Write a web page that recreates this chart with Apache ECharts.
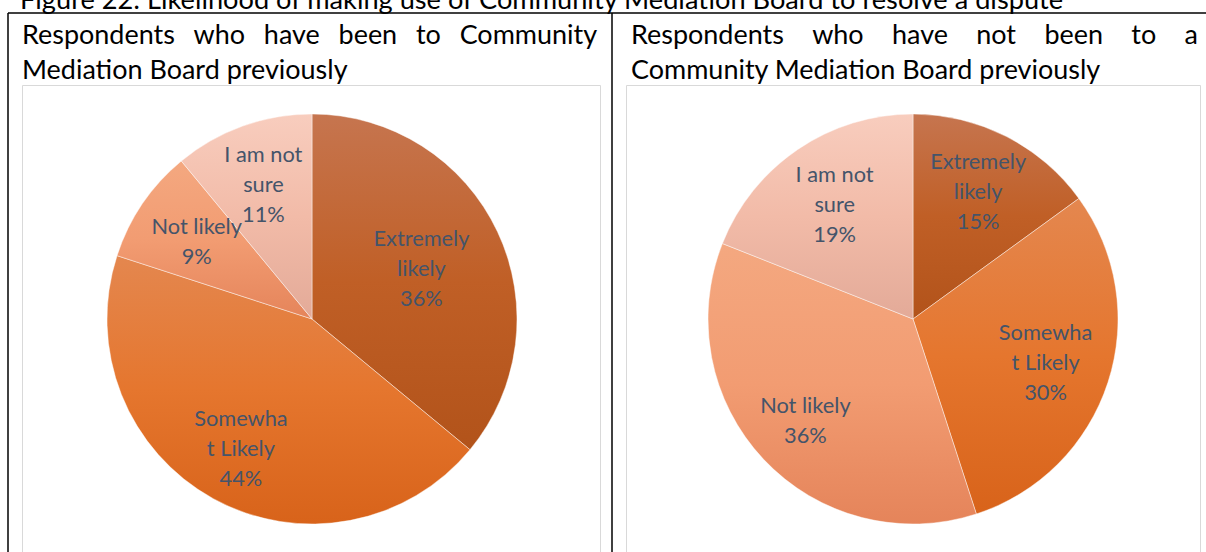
<!DOCTYPE html>
<html>
<head>
<meta charset="utf-8">
<script src="https://cdn.jsdelivr.net/npm/echarts@6/dist/echarts.min.js"></script>
<style>
  html, body { margin: 0; padding: 0; background: #ffffff; }
  #chart { width: 1206px; height: 552px; }
</style>
</head>
<body>
<div id="chart"></div>
<script>
// ---- data ----
const figureTitle = 'Figure 22: Likelihood of making use of Community Mediation Board to resolve a dispute';
const leftHeading = ['Respondents who have been to Community', 'Mediation Board previously'];
const rightHeading = ['Respondents who have not been to a', 'Community Mediation Board previously'];
const categories = ['Extremely likely', 'Somewhat Likely', 'Not likely', 'I am not sure'];
const wrappedNames = ['Extremely\nlikely', 'Somewha\nt Likely', 'Not likely', 'I am not\nsure'];
const beenBefore = [36, 44, 9, 11];
const notBeenBefore = [15, 30, 36, 19];

// ---- styling ----
const FONT = 'Lato, "Noto Sans", sans-serif';
const LABEL_COLOR = '#44546a';
const sliceGradients = [
  ['#c6754f', '#c05f26', '#b2531a'],
  ['#e4874f', '#e5762e', '#d8631a'],
  ['#f4a880', '#f29c72', '#e5845a'],
  ['#f8cdbe', '#f2bba8', '#e3aa98']
];

// measure text so the Calibri-like spacing of the page can be reproduced
const measureCtx = document.createElement('canvas').getContext('2d');
function textWidth(str, size) {
  measureCtx.font = size + 'px ' + FONT;
  return measureCtx.measureText(str).width;
}
function fitSize(str, targetWidth) {
  return 100 * targetWidth / textWidth(str, 100);
}

const headingSize = fitSize(rightHeading[1], 470);
const titleSize = fitSize(figureTitle, 1045);
const labelSize = fitSize('Extremely', 96);

function gradient(stops) {
  return {
    type: 'linear', x: 0, y: 0, x2: 0, y2: 1,
    colorStops: stops.map((c, i) => ({ offset: i / (stops.length - 1), color: c }))
  };
}

function pieData(values) {
  return values.map((v, i) => ({
    name: categories[i],
    value: v,
    itemStyle: { color: gradient(sliceGradients[i]) },
    label: { formatter: wrappedNames[i] + '\n{d}%' }
  }));
}

// a justified first line of a heading, one text element per word
function justifiedLine(words, x0, x1, y, size) {
  const parts = words.split(' ');
  const widths = parts.map(w => textWidth(w, size));
  const sum = widths.reduce((a, b) => a + b, 0);
  const gap = (x1 - x0 - sum) / (parts.length - 1);
  let x = x0;
  return parts.map((w, i) => {
    const el = {
      type: 'text', x: x, y: y,
      style: { text: w, font: size.toFixed(2) + 'px ' + FONT, fill: '#000', verticalAlign: 'middle', align: 'left' }
    };
    x += widths[i] + gap;
    return el;
  });
}
function plainLine(text, x, y, size) {
  return {
    type: 'text', x: x, y: y,
    style: { text: text, font: size.toFixed(2) + 'px ' + FONT, fill: '#000', verticalAlign: 'middle', align: 'left' }
  };
}

// pull the inside labels further out along each slice's bisector
function labelLayoutFor(center, radius, ratios) {
  return function (params) {
    const r = params.labelRect;
    const lx = r.x + r.width / 2, ly = r.y + r.height / 2;
    const dx = lx - center[0], dy = ly - center[1];
    const d = Math.hypot(dx, dy) || 1;
    const k = ratios[params.dataIndex] * radius / d;
    return { x: center[0] + dx * k, y: center[1] + dy * k };
  };
}

const R = 205;
const leftCenter = [312, 319];
const rightCenter = [913, 319];

function pieSeries(values, center, ratios) {
  return {
    type: 'pie',
    center: center,
    radius: [0, R],
    startAngle: 90,
    clockwise: true,
    avoidLabelOverlap: false,
    silent: true,
    animation: false,
    itemStyle: { borderColor: 'rgba(255,255,255,0.55)', borderWidth: 0.8 },
    label: {
      show: true,
      position: 'inside',
      color: LABEL_COLOR,
      fontFamily: FONT,
      fontSize: labelSize,
      lineHeight: 30
    },
    labelLine: { show: false },
    labelLayout: labelLayoutFor(center, R, ratios),
    data: pieData(values)
  };
}

const black = { stroke: '#000', lineWidth: 1.5 };
const boxStroke = { fill: 'none', stroke: '#d9d9d9', lineWidth: 1 };

const graphics = [
  plainLine(figureTitle, 20, -2, titleSize),
  { type: 'line', shape: { x1: 8, y1: 13, x2: 1206, y2: 13 }, style: black },
  { type: 'line', shape: { x1: 8, y1: 13, x2: 8, y2: 552 }, style: black },
  { type: 'line', shape: { x1: 612, y1: 13, x2: 612, y2: 552 }, style: black },
  { type: 'rect', shape: { x: 22.5, y: 85.5, width: 578, height: 480 }, style: boxStroke },
  { type: 'rect', shape: { x: 626.5, y: 85.5, width: 574, height: 480 }, style: boxStroke },
  ...justifiedLine(leftHeading[0], 22, 597, 33, headingSize),
  plainLine(leftHeading[1], 22, 68, headingSize),
  ...justifiedLine(rightHeading[0], 631, 1198, 33, headingSize),
  plainLine(rightHeading[1], 631, 68, headingSize)
];

const chart = echarts.init(document.getElementById('chart'), null, { renderer: 'svg' });
chart.setOption({
  backgroundColor: '#ffffff',
  animation: false,
  graphic: { elements: graphics.map(g => Object.assign({ silent: true, z: g.type === 'text' ? 10 : 0 }, g)) },
  series: [
    pieSeries(beenBefore, leftCenter, [0.59, 0.72, 0.68, 0.70]),
    pieSeries(notBeenBefore, rightCenter, [0.70, 0.68, 0.72, 0.68])
  ]
});
</script>
</body>
</html>
